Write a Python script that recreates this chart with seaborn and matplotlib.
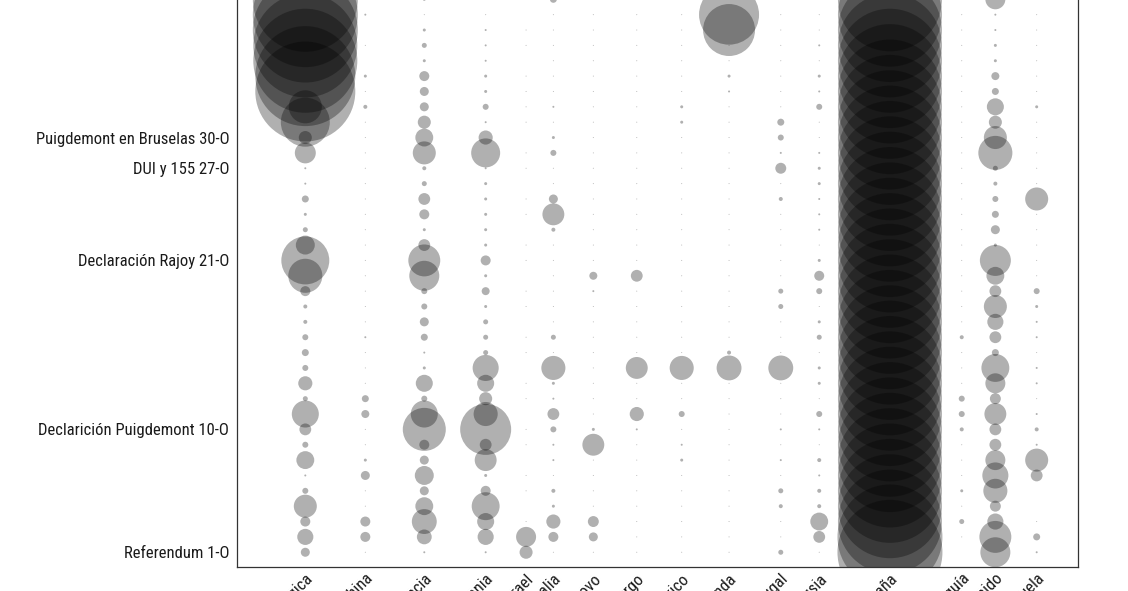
import numpy as np
import pandas as pd
import matplotlib
matplotlib.use("Agg")
import matplotlib.pyplot as plt
import seaborn as sns
from matplotlib import font_manager

# ---------------- data ----------------
countries = ["Bélgica", "China", "Francia", "Alemania", "Israel", "Italia", "Kosovo",
             "Luxemburgo", "México", "Holanda", "Portugal", "Rusia", "España",
             "Turquía", "Reino Unido", "Venezuela"]
country_pos = [0.0, 3.98, 7.89, 11.96, 14.64, 16.45, 19.10, 21.98, 24.96, 28.10,
               31.53, 34.08, 38.77, 43.53, 45.76, 48.50]

day_index = list(range(37))
event_rows = [0, 8, 19, 25, 27]
event_labels = ["Referendum 1-O", "Declarición Puigdemont 10-O", "Declaración Rajoy 21-O",
                "DUI y 155 27-O", "Puigdemont en Bruselas 30-O"]

belgica = [8.1, 26, 10, 53, 3.6, 0.4, 32, 3.6, 14, 73, 2.5, 20, 3.6, 4.9, 3.6, 1.6, 1.6, 10,
           116, 230, 36, 2.5, 0.9, 4.9, 0.4, 0.4, 44, 17, 240, 109, 1000, 1000, 1082, 1082,
           1102, 1102, 1102]
china = [0.1, 10, 10, 0.1, 0.1, 8.1, 0.9, 0.1, 0.1, 6.4, 4.9, 0.1, 0.1, 0.1, 0.4, 0.1, 0.1,
         0.1, 0.1, 0.1, 0.1, 0.1, 0.1, 0.1, 0.1, 0.1, 0.1, 0.1, 0.1, 1.6, 0.1, 0.9, 0, 0.1,
         0, 0.4, 0]
francia = [0.4, 22, 62, 32, 8.1, 36, 8.1, 10, 185, 73, 3.6, 29, 0.9, 0.4, 4.9, 8.1, 3.6, 3.6,
           90, 102, 14, 0.9, 10, 14, 2.5, 1.6, 53, 32, 17, 8.1, 8.1, 10, 0.9, 2.5, 0.9, 0.1, 0.9]
alemania = [0.4, 26, 29, 78, 10, 0.9, 48, 14, 260, 58, 17, 29, 68, 2.5, 2.5, 2.5, 0.9, 6.4,
            0.9, 10, 0.9, 0.9, 0.9, 0.9, 0.9, 0.4, 84, 20, 0.4, 3.6, 0.9, 0.9, 0.4, 0.4, 0.4,
            0.1, 0.1]
israel = [17, 40, 0.1, 0, 0.1, 0.1, 0, 0.1, 0.1, 0, 0.1, 0.1, 0, 0.1, 0.1, 0, 0.1, 0.1, 0,
          0.1, 0.1, 0, 0.1, 0.1, 0, 0.1, 0.1, 0, 0.1, 0.1, 0.1, 0.1, 0, 0.1, 0.1, 0, 0.1]
italia = [0.1, 10, 20, 0.9, 1.6, 0.1, 0.4, 0.4, 3.6, 14, 0.4, 0.9, 58, 0.1, 2.5, 0.1, 0.1,
          0.1, 0.1, 0.1, 0.1, 1.6, 48, 8.1, 0.1, 0.1, 3.6, 0.9, 0.1, 0.4, 0.1, 0.1, 0.1, 0.1,
          0.1, 0.1, 4.9]
kosovo = [0.1, 8.1, 12, 0.1, 0.1, 0.1, 0.1, 48, 0.9, 0.1, 0.1, 0.1, 0.1, 0.1, 0.1, 0.1, 0.1,
          0.4, 6.4, 0.1, 0.1, 0.1, 0.1, 0.1, 0.1, 0.1, 0.1, 0.1, 0.1, 0.1, 0.1, 0.1, 0.1, 0.1,
          0.1, 0.1, 0.1]
luxemburgo = [0.1, 0.1, 0.1, 0.1, 0.1, 0.1, 0.1, 0.1, 0.4, 20, 0.1, 0.1, 48, 0.1, 0.1, 0.1,
              0.1, 0.1, 14, 0.1, 0.1, 0.1, 0.1, 0.1, 0.1, 0.1, 0.1, 0.1, 0.1, 0.1, 0.1, 0.1,
              0.1, 0.1, 0.1, 0.1, 0.1]
mexico = [0.1, 0.1, 0.1, 0.1, 0.1, 0.1, 0.9, 0.4, 0.1, 3.6, 0.1, 0.1, 58, 0.1, 0.1, 0.1, 0.1,
          0.1, 0.1, 0.1, 0.1, 0.1, 0.1, 0.1, 0.1, 0.1, 0.1, 0.1, 0.9, 0.9, 0.1, 0.1, 0.1, 0.1,
          0.1, 0.1, 0.1]
holanda = [0.1, 0.1, 0.1, 0.1, 0.1, 0.1, 0.1, 0.1, 0.1, 0.1, 0.1, 0.1, 62, 1.6, 0.1, 0.1,
           0.1, 0.1, 0.1, 0.1, 0.1, 0.1, 0.1, 0.1, 0.1, 0.1, 0.1, 0.1, 0.1, 0.1, 0.4, 0.9, 0.1,
           0.1, 270, 360, 0.1]
portugal = [2.5, 0.1, 0.1, 1.6, 2.5, 0.1, 0.4, 0.1, 0.4, 0.1, 0.1, 0.1, 62, 0.1, 0.1, 0.1,
            2.5, 2.5, 0.1, 0.1, 0.1, 0.1, 0.1, 1.6, 0.1, 12, 0.4, 3.6, 4.9, 0.1, 0.1, 0.1, 0.1,
            0.1, 0.1, 0.1, 0.1]
rusia = [0.1, 14, 32, 1.6, 1.6, 0.4, 1.6, 0.1, 0.4, 3.6, 0.1, 0.9, 0.9, 0.1, 2.5, 0.9, 0.1,
         3.6, 10, 0.9, 0.1, 0.4, 0.4, 0.4, 0.9, 0.9, 0.4, 0.1, 0.1, 3.6, 0.4, 0.9, 0.1, 0.4,
         0.1, 0.1, 0.1]
espana = [1102, 1102, 1082, 1082, 1082, 1082, 1082, 1082, 1082, 1082, 1082, 1082, 1082, 1082,
          1082, 1082, 1082, 1082, 1082, 1082, 1082, 1082, 1082, 1082, 1082, 1082, 1082, 1082,
          1082, 1082, 1082, 1082, 1082, 1082, 1082, 1082, 1082]
turquia = [0, 0.1, 2.5, 0.1, 0.9, 0.1, 0.1, 0.1, 1.6, 3.6, 3.6, 0.1, 0.1, 0.1, 1.6, 0.1, 0.1,
           0.1, 0.1, 0.1, 0.1, 0.1, 0.1, 0.1, 0.1, 0.1, 0.1, 0.1, 0.1, 0.1, 0.1, 0.1, 0.1, 0.1,
           0.1, 0.1, 0.1]
reino_unido = [90, 102, 26, 12, 58, 68, 40, 14, 14, 48, 12, 40, 78, 4.9, 14, 26, 53, 14, 32,
               96, 0.9, 8.1, 4.9, 3.6, 1.6, 2.5, 116, 53, 17, 29, 4.9, 6.4, 0.9, 0.9, 0.4, 0.4,
               40]
venezuela = [0.4, 4.9, 0.1, 0, 0, 14, 53, 0.4, 1.6, 0.4, 0.1, 0.4, 0.4, 0.1, 0.4, 0.4, 0.9,
             3.6, 0.1, 0.1, 0.1, 0.1, 0.1, 53, 0.1, 0.1, 0.1, 0.1, 0.1, 0.9, 0.1, 0.1, 0.1, 0.1,
             0.1, 0.1, 0.1]

series = [belgica, china, francia, alemania, israel, italia, kosovo, luxemburgo, mexico,
          holanda, portugal, rusia, espana, turquia, reino_unido, venezuela]

# ---------------- build table ----------------
records = []
for name, xpos, vals in zip(countries, country_pos, series):
    for d, v in zip(day_index, vals):
        if v > 0:
            records.append({"pais": name, "x": xpos, "dia": d, "valor": v})
df = pd.DataFrame(records)

# ---------------- font choice ----------------
sns.set_style("white")
entries = font_manager.fontManager.ttflist
avail = {f.name for f in entries}
fam = None
stretch = "normal"
for cand in ["Liberation Sans Narrow", "Roboto Condensed", "Open Sans Condensed",
             "Noto Sans Condensed", "Noto Sans Display Condensed"]:
    if cand in avail:
        fam = cand
        break
if fam is None:
    for f in entries:
        if f.name in ("Noto Sans", "Open Sans", "Roboto") and str(f.stretch) in (
                "condensed", "semi-condensed", "75", "87"):
            fam = f.name
            stretch = "condensed"
            break
if fam is None:
    fam = "Lato"
plt.rcParams["font.family"] = [fam, "DejaVu Sans"]
plt.rcParams["font.stretch"] = stretch

W, H = 1128, 591
fig = plt.figure(figsize=(W / 100, H / 100), dpi=100)

# pick a size so the longest y label spans ~193 px as in the reference
renderer = fig.canvas.get_renderer()
probe = fig.text(0, 0, "Puigdemont en Bruselas 30-O", fontsize=12)
wpx = probe.get_window_extent(renderer).width
probe.remove()
fsize = min(13.0, 12.0 * 193.0 / wpx)

row_px = 15.36
ylo, yhi = -0.94, 38.5
ax_h = (yhi - ylo) * row_px / H
ax = fig.add_axes([237 / W, (H - 566.7) / H, 841 / W, ax_h])

vmax = 1102.5
smax = (0.72 * 105) ** 2
sns.scatterplot(data=df, x="x", y="dia", size="valor", sizes=(0, smax),
                size_norm=(0, vmax), color="black", alpha=0.31, linewidth=0,
                legend=False, ax=ax)

ax.set_xlim(-4.53, 51.24)
ax.set_ylim(ylo, yhi)
ax.set_xticks(country_pos)
ax.set_xticklabels(countries, rotation=45, ha="right", va="top",
                   rotation_mode="anchor", fontsize=fsize, color="#1a1a1a")
ax.set_yticks(event_rows)
ax.set_yticklabels(event_labels, fontsize=fsize, color="#1a1a1a")
ax.set_xlabel("")
ax.set_ylabel("")
for s in ["left", "bottom", "right"]:
    ax.spines[s].set_visible(True)
    ax.spines[s].set_color("#333333")
    ax.spines[s].set_linewidth(0.9)
ax.spines["top"].set_visible(False)
ax.tick_params(axis="both", length=3.5, width=0.9, color="#333333")
ax.tick_params(axis="x", pad=-0.7)
ax.tick_params(axis="y", pad=2)

fig.savefig("out.png", dpi=100)
